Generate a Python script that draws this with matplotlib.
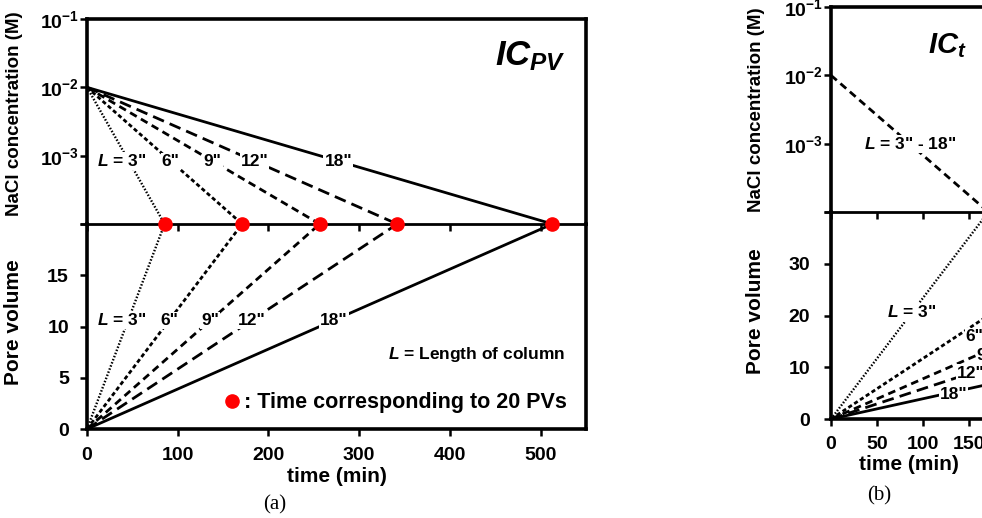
import matplotlib
matplotlib.use("Agg")
import matplotlib.pyplot as plt
from matplotlib.lines import Line2D
from matplotlib.ticker import NullLocator

plt.rcParams['font.family'] = ['Liberation Sans', 'DejaVu Sans']
plt.rcParams['font.weight'] = 'bold'
plt.rcParams['axes.labelweight'] = 'bold'
plt.rcParams['mathtext.fontset'] = 'custom'
plt.rcParams['mathtext.rm'] = 'Liberation Sans:bold'
plt.rcParams['mathtext.it'] = 'Liberation Sans:bold:italic'
plt.rcParams['mathtext.bf'] = 'Liberation Sans:bold'
plt.rcParams['lines.scale_dashes'] = False

# --- data ---
lengths = ['3"', '6"', '9"', '12"', '18"']
t_20pv = [85.5, 171, 256.5, 342, 513]        # min, time to reach 20 PVs (IC_PV)
pv_target = 20
c_start, c_end = 1e-2, 1e-4                  # NaCl (M)

t_ict = 171                                  # IC_t: same time for all lengths
pv_at_ict = [40, 20, 13.3, 10, 6.7]          # PV reached at t_ict
t_label_b = [88, 150, 168, 152, 133]         # where the length labels sit in (b)
shift_b = [(0, 0), (4, -6), (0, -3), (0, 0), (0, -2)]

styles = [(0, (1.1, 1.3)), (0, (3, 2)), (0, (5.5, 3.5)), (0, (8.5, 4.5)), '-']
widths = [1.7, 2.0, 2.0, 2.0, 2.0]

W, H = 982, 518
fig = plt.figure(figsize=(W / 100, H / 100), dpi=100)


def rect(l, t, r, b):
    return [l / W, 1 - b / H, (r - l) / W, (b - t) / H]


def frame(up, lo, thick=2.6, mid=2.0):
    for s in ['top', 'left', 'right']:
        up.spines[s].set_linewidth(thick)
    up.spines['bottom'].set_linewidth(mid)
    up.spines['bottom'].set_zorder(5)
    lo.spines['top'].set_visible(False)
    lo.patch.set_visible(False)
    for s in ['bottom', 'left', 'right']:
        lo.spines[s].set_linewidth(thick)
    for ax in (up, lo):
        ax.tick_params(direction='out', length=5, width=1.8, labelsize=14)
        ax.tick_params(axis='x', pad=8)
    up.set_yscale('log')
    up.set_ylim(c_end, 1e-1)
    up.yaxis.set_minor_locator(NullLocator())
    up.set_yticks([1e-4, 1e-3, 1e-2, 1e-1], ['', '$10^{-3}$', '$10^{-2}$', '$10^{-1}$'])
    up.tick_params(axis='y', pad=1)
    up.tick_params(axis='x', labelbottom=False)


lbl = dict(fontsize=12.5, ha='center', va='center', zorder=6,
           bbox=dict(fc='white', ec='none', pad=0.8))

# ---------------- panel (a) : IC_PV ----------------
a_up = fig.add_axes(rect(87, 19, 586, 224))
a_lo = fig.add_axes(rect(87, 224, 586, 429))
frame(a_up, a_lo)
for ax in (a_up, a_lo):
    ax.set_xlim(0, 550)
    ax.set_xticks([0, 100, 200, 300, 400, 500])
a_lo.set_ylim(0, pv_target)
a_lo.set_yticks([0, 5, 10, 15, 20], ['0', '5', '10', '15', ''])
a_lo.tick_params(axis='y', pad=8)

for i, (t, name) in enumerate(zip(t_20pv, lengths)):
    a_up.plot([0, t], [c_start, c_end], color='black', ls=styles[i], lw=widths[i])
    a_lo.plot([0, t], [0, pv_target], color='black', ls=styles[i], lw=widths[i])
    txt = ('$L$ = ' + name) if i == 0 else name
    dx = -5 if i == 0 else 0
    f = 0.54
    a_up.annotate(txt, (f * t, 10 ** (-2 - 2 * f)), xytext=(dx, 0),
                  textcoords='offset points', **lbl)
    f = 0.53
    a_lo.annotate(txt, (f * t, f * pv_target), xytext=(dx, 0),
                  textcoords='offset points', **lbl)

a_lo.plot(t_20pv, [pv_target] * len(t_20pv), 'o', color='#ff0000', ms=9.5,
          clip_on=False, zorder=10)

a_up.text(0.818, 0.776, '$IC_{PV}$', fontsize=25, transform=a_up.transAxes,
          ha='left', va='baseline')
a_lo.text(0.958, 0.361, '$L$ = Length of column', fontsize=12.5,
          transform=a_lo.transAxes, ha='right', va='center')
a_lo.legend(handles=[Line2D([], [], ls='', marker='o', color='#ff0000', ms=9.5)],
            labels=[': Time corresponding to 20 PVs'], loc='center right',
            bbox_to_anchor=(0.962, 0.127), frameon=False, fontsize=15.5,
            handlelength=0.7, handletextpad=0.2, borderpad=0, borderaxespad=0)

a_up.set_ylabel('NaCl concentration (M)', fontsize=13.5)
a_up.yaxis.set_label_coords(-0.128, 0.54)
a_lo.set_ylabel('Pore volume', fontsize=15)
a_lo.yaxis.set_label_coords(-0.128, 0.52)
a_lo.set_xlabel('time (min)', fontsize=15, va='center')
a_lo.xaxis.set_label_coords(0.5, -0.23)

# ---------------- panel (b) : IC_t ----------------
b_up = fig.add_axes(rect(831, 7, 1015, 212))
b_lo = fig.add_axes(rect(831, 212, 1015, 419))
frame(b_up, b_lo)
for ax in (b_up, b_lo):
    ax.set_xlim(0, 200)
    ax.set_xticks([0, 50, 100, 150, 200])
b_lo.set_ylim(0, 40)
b_lo.set_yticks([0, 10, 20, 30, 40], ['0', '10', '20', '30', ''])
b_lo.tick_params(axis='y', pad=10)
b_lo.tick_params(axis='x', pad=7)

b_up.plot([0, t_ict], [c_start, c_end], color='black', ls=styles[2], lw=2.0)
f = 0.5
b_up.annotate('$L$ = 3" - 18"', (f * t_ict, 10 ** (-2 - 2 * f)), **lbl)

for i, name in enumerate(lengths):
    b_lo.plot([0, t_ict], [0, pv_at_ict[i]], color='black', ls=styles[i], lw=widths[i])
    txt = ('$L$ = ' + name) if i == 0 else name
    tl = t_label_b[i]
    b_lo.annotate(txt, (tl, tl * pv_at_ict[i] / t_ict), xytext=shift_b[i],
                  textcoords='offset points', **lbl)

b_up.text(0.527, 0.776, '$IC_t$', fontsize=21, transform=b_up.transAxes,
          ha='left', va='baseline')
b_up.set_ylabel('NaCl concentration (M)', fontsize=13.5)
b_up.yaxis.set_label_coords(-0.36, 0.5)
b_lo.set_ylabel('Pore volume', fontsize=15)
b_lo.yaxis.set_label_coords(-0.36, 0.52)
b_lo.set_xlabel('time (min)', fontsize=15, va='center')
b_lo.xaxis.set_label_coords(78 / 184, -0.22)

fig.text(275 / W, 1 - 505 / H, '(a)', family='Liberation Serif', weight='normal',
         fontsize=15, ha='center', va='center')
fig.text(879 / W, 1 - 496 / H, '(b)', family='Liberation Serif', weight='normal',
         fontsize=15, ha='center', va='center')

fig.savefig('out.png', dpi=100)
